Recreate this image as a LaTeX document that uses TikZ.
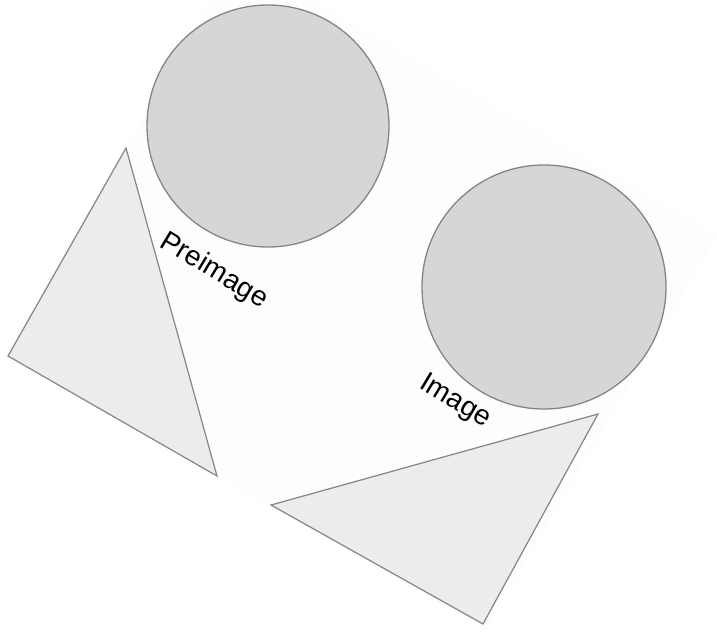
\documentclass[tikz,border=0pt]{standalone}
\usepackage{fontspec}
\setmainfont{Liberation Sans}
\definecolor{circfill}{HTML}{D6D6D6}
\definecolor{trifill}{HTML}{ECECEC}
\definecolor{edge}{HTML}{858585}
\definecolor{bgpaper}{HTML}{FDFDFD}
\begin{document}
\begin{tikzpicture}[x=1pt,y=-1pt,
  disc/.style={circle,draw=edge,fill=circfill,line width=1.3pt,inner sep=0pt,minimum size=#1},
  tri/.style={draw=edge,fill=trifill,line width=1.2pt,line join=miter},
  lbl/.style={font=\fontsize{28}{32}\selectfont,rotate=-31,inner sep=0pt}]
\useasboundingbox (0,0) rectangle (717,632);
\begin{scope}
\clip (0,0) rectangle (717,632);
\fill[bgpaper] (237,-42) -- (717,236) -- (485,630) -- (5,352) -- cycle;
\end{scope}
% triangles
\coordinate (t1a) at (126,148);
\coordinate (t1b) at (8,356);
\coordinate (t1c) at (217,476);
\coordinate (t2a) at (598,414);
\coordinate (t2b) at (271,505);
\coordinate (t2c) at (483,624);
\draw[tri] (t1a) -- (t1b) -- (t1c) -- cycle;
\draw[tri] (t2a) -- (t2b) -- (t2c) -- cycle;
% circles
\node[disc=242pt] (pre) at (268,126) {};
\node[disc=244pt] (img) at (544,287) {};
% labels
\node[lbl] (prelbl) at (214,271) {Preimage};
\node[lbl] (imglbl) at (455,402) {Image};
\end{tikzpicture}
\end{document}
